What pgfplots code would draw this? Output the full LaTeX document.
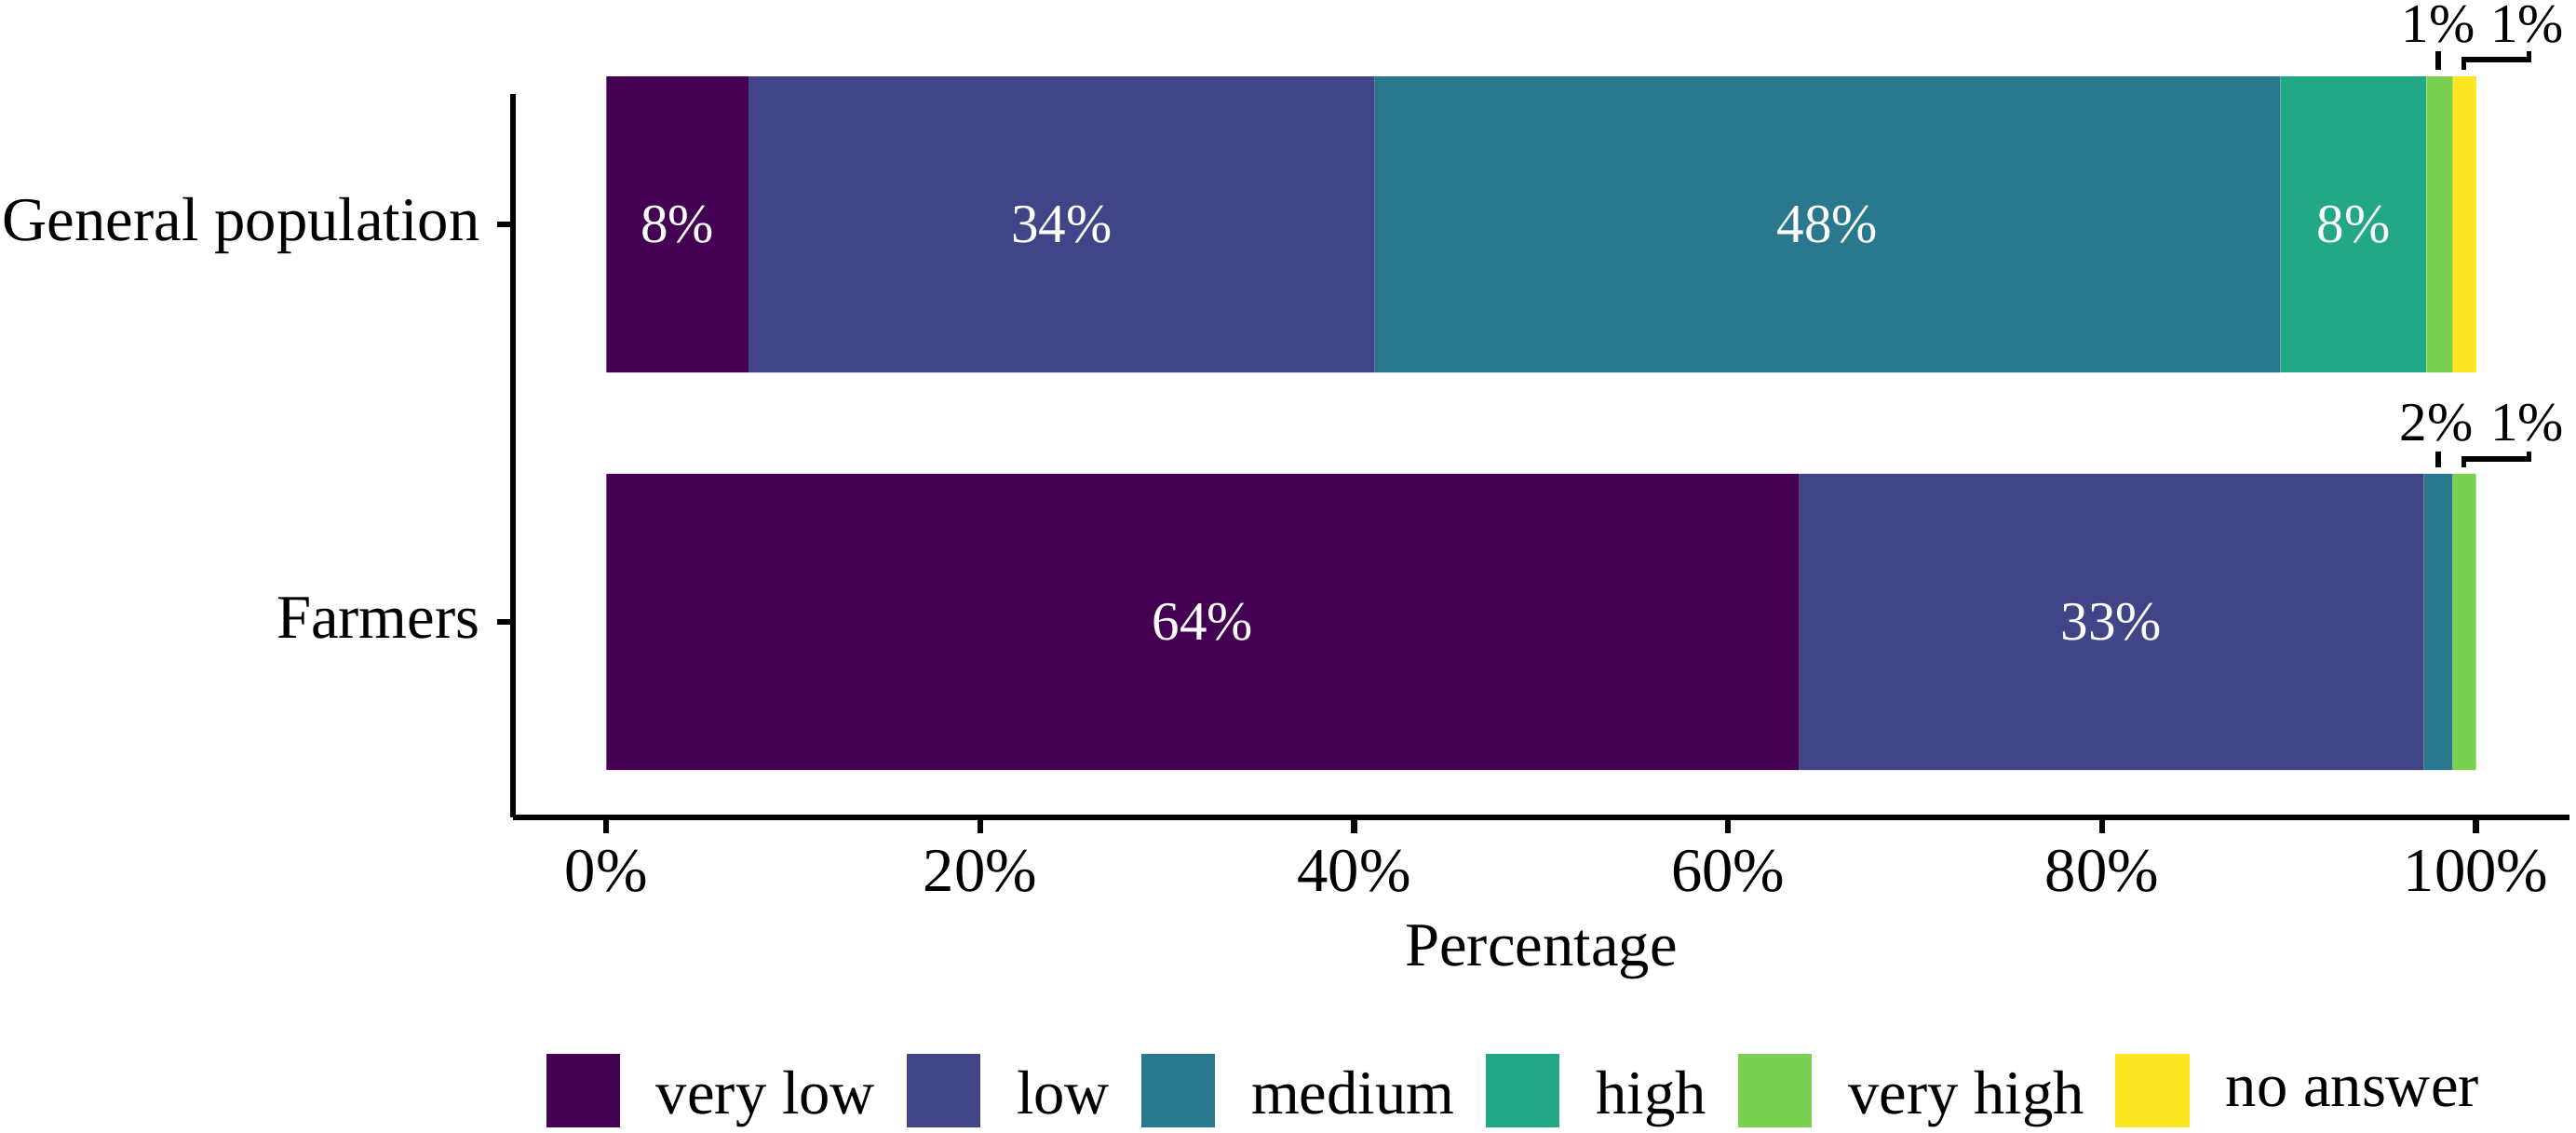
\documentclass[border=0pt]{standalone}
\usepackage{pgfplots}
\pgfplotsset{compat=1.18}
\usepackage{fontspec}
\setmainfont{Liberation Serif}
\definecolor{cvlow}{HTML}{440154}
\definecolor{clow}{HTML}{414487}
\definecolor{cmed}{HTML}{2A788E}
\definecolor{chigh}{HTML}{22A884}
\definecolor{cvhigh}{HTML}{7AD151}
\definecolor{cna}{HTML}{FDE725}
\newcommand{\bigf}{\fontsize{16bp}{19bp}\selectfont}
\newcommand{\smf}{\fontsize{14.2bp}{17bp}\selectfont}
\pgfplotsset{
  sqkey/.style={legend image code/.code={\fill[fill=#1] (0bp,-8.4bp) rectangle (19bp,10.6bp);}}
}
\begin{document}
\begin{tikzpicture}
\begin{axis}[
  scale only axis,
  width=530.2bp, height=186.5bp,
  xmin=-5, xmax=105,
  ymin=0.508, ymax=2.328,
  xbar stacked,
  bar width=0.745,
  axis x line*=bottom, axis y line*=left,
  axis line style={line width=1.5bp, black},
  every tick/.style={line width=1.5bp, black},
  tick align=outside,
  major tick length=4bp,
  xtick={0,20,40,60,80,100},
  xticklabels={0\%,20\%,40\%,60\%,80\%,100\%},
  ytick={1,2},
  yticklabels={Farmers, General population},
  xticklabel style={font=\bigf, anchor=base, yshift=-15.0bp},
  yticklabel style={font=\bigf, anchor=base east, inner sep=0pt, xshift=-4.3bp, yshift=-4.3bp},
  xlabel={Percentage},
  xlabel style={font=\bigf, at={(axis description cs:0.5,-0.2046)}, anchor=base},
  clip=false,
  legend columns=6,
  legend style={draw=none, fill=none, at={(axis description cs:0.488,-0.378)}, anchor=center, font=\bigf,
    /tikz/every even column/.append style={column sep=6.1bp},
    /tikz/every odd column/.append style={column sep=7.4bp}},
]
\addplot[fill=cvlow, draw=none, sqkey=cvlow] coordinates {(63.8,1) (7.6,2)};
\addlegendentry{very low}
\addplot[fill=clow, draw=none, sqkey=clow] coordinates {(33.4,1) (33.5,2)};
\addlegendentry{low}
\addplot[fill=cmed, draw=none, sqkey=cmed] coordinates {(1.55,1) (48.45,2)};
\addlegendentry{medium}
\addplot[fill=chigh, draw=none, sqkey=chigh] coordinates {(0,1) (7.8,2)};
\addlegendentry{high}
\addplot[fill=cvhigh, draw=none, sqkey=cvhigh] coordinates {(1.25,1) (1.4,2)};
\addlegendentry{very high}
\addplot[fill=cna, draw=none, sqkey=cna] coordinates {(0,1) (1.25,2)};
\addlegendentry{no answer}
% anchor points for labels inside bars
\coordinate (la) at (axis cs:3.8,2);
\coordinate (lb) at (axis cs:24.35,2);
\coordinate (lc) at (axis cs:65.3,2);
\coordinate (ld) at (axis cs:93.45,2);
\coordinate (le) at (axis cs:31.9,1);
\coordinate (lf) at (axis cs:80.5,1);
% small-segment labels
\node[font=\smf] at (axis cs:98.0,2.503) {1\%};
\node[font=\smf] at (axis cs:102.74,2.503) {1\%};
\node[font=\smf] at (axis cs:97.9,1.501) {2\%};
\node[font=\smf] at (axis cs:102.74,1.501) {1\%};
\draw[line width=1.4bp] (axis cs:98.0,2.4356) -- (axis cs:98.0,2.3888);
\draw[line width=1.4bp] (axis cs:102.84,2.4356) -- (axis cs:102.84,2.4145) -- (axis cs:99.35,2.4145) -- (axis cs:99.35,2.3888);
\draw[line width=1.4bp] (axis cs:98.0,1.4286) -- (axis cs:98.0,1.3888);
\draw[line width=1.4bp] (axis cs:102.84,1.4286) -- (axis cs:102.84,1.4098) -- (axis cs:99.35,1.4098) -- (axis cs:99.35,1.3888);
\coordinate (bbsw) at (axis description cs:-0.2494,-0.435);
\coordinate (bbne) at (axis description cs:1.0032,1.130);
\end{axis}
\begin{scope}[every node/.style={text=white, font=\smf}]
\node at (la) {8\%};
\node at (lb) {34\%};
\node at (lc) {48\%};
\node at (ld) {8\%};
\node at (le) {64\%};
\node at (lf) {33\%};
\end{scope}
\pgfresetboundingbox
\useasboundingbox (bbsw) rectangle (bbne);
\end{tikzpicture}
\end{document}
